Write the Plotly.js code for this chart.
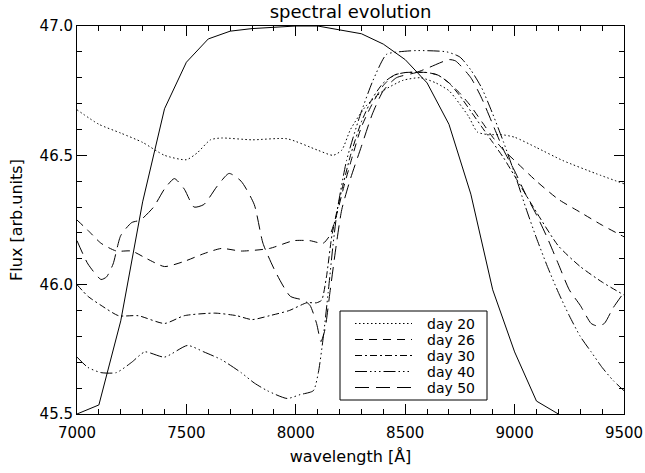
<!DOCTYPE html>
<html>
<head>
<meta charset="utf-8">
<script src="https://cdn.plot.ly/plotly-3.0.1.min.js"></script>
<style>html,body{margin:0;padding:0;background:#fff;}#chart{width:645px;height:473px;}</style>
</head>
<body>
<div id="chart"></div>
<script>
// Filter transmission (scaled), solid line
const filterWave = [7000,7100,7200,7300,7400,7500,7600,7700,7800,8000,8100,8300,8400,8500,8600,8700,8800,8900,9000,9100,9200];
const filterFlux = [45.50,45.535,45.86,46.32,46.68,46.86,46.95,46.98,46.99,47.0,47.0,46.97,46.93,46.87,46.78,46.62,46.35,45.98,45.74,45.55,45.50];

const wave20 = [7000,7100,7200,7300,7400,7500,7550,7610,7660,7800,7960,8100,8170,8210,8250,8320,8400,8490,8570,8640,8700,8730,8790,8830,8880,8940,9000,9100,9220,9370,9500];
const flux20 = [46.676,46.62,46.586,46.55,46.50,46.483,46.51,46.56,46.567,46.56,46.564,46.52,46.50,46.52,46.60,46.69,46.75,46.79,46.80,46.78,46.75,46.72,46.65,46.59,46.58,46.58,46.57,46.53,46.48,46.43,46.39];

const wave26 = [7000,7050,7110,7180,7250,7320,7400,7490,7580,7660,7750,7880,7990,8065,8125,8155,8180,8220,8260,8300,8350,8400,8450,8500,8600,8650,8700,8750,8800,8850,8900,8950,9000,9100,9200,9300,9400,9500];
const flux26 = [46.25,46.21,46.16,46.13,46.13,46.10,46.07,46.09,46.12,46.14,46.13,46.14,46.17,46.17,46.16,46.19,46.25,46.38,46.50,46.61,46.70,46.77,46.81,46.82,46.82,46.81,46.78,46.74,46.69,46.63,46.57,46.52,46.48,46.40,46.33,46.28,46.23,46.185];

const wave30 = [7000,7050,7110,7190,7280,7400,7490,7630,7730,7800,7880,7970,8050,8095,8118,8140,8165,8200,8250,8300,8350,8400,8450,8500,8600,8650,8700,8750,8800,8850,8900,8950,9000,9100,9200,9300,9400,9500];
const flux30 = [46.0,45.955,45.92,45.88,45.88,45.85,45.88,45.89,45.88,45.865,45.88,45.90,45.93,45.93,45.94,46.03,46.19,46.33,46.50,46.63,46.72,46.78,46.81,46.82,46.82,46.81,46.78,46.73,46.67,46.61,46.55,46.49,46.42,46.28,46.15,46.07,46.01,45.96];

const wave40 = [7000,7050,7110,7180,7250,7310,7400,7505,7580,7660,7750,7810,7870,7960,8020,8080,8103,8126,8148,8171,8190,8232,8292,8353,8414,8470,8550,8690,8750,8800,8850,8900,8950,9000,9050,9100,9150,9200,9250,9300,9350,9400,9450,9500];
const flux40 = [45.72,45.68,45.66,45.66,45.70,45.74,45.72,45.765,45.74,45.71,45.66,45.62,45.59,45.56,45.575,45.59,45.66,45.80,45.97,46.16,46.29,46.48,46.65,46.79,46.89,46.90,46.905,46.90,46.88,46.83,46.76,46.66,46.55,46.43,46.30,46.18,46.07,45.97,45.88,45.80,45.74,45.68,45.63,45.59];

const wave50 = [7000,7050,7110,7135,7165,7200,7250,7290,7350,7400,7445,7490,7535,7580,7640,7695,7750,7810,7850,7910,7975,8035,8065,8095,8115,8133,8156,8186,8210,8250,8300,8350,8400,8460,8550,8610,8700,8730,8800,8850,8900,8950,9000,9050,9100,9150,9200,9250,9300,9350,9380,9410,9450,9500];
const flux50 = [46.17,46.08,46.02,46.03,46.08,46.19,46.24,46.25,46.30,46.37,46.41,46.37,46.30,46.31,46.38,46.43,46.40,46.31,46.16,46.045,45.955,45.94,45.92,45.85,45.78,45.825,45.97,46.16,46.29,46.41,46.535,46.66,46.75,46.80,46.82,46.84,46.87,46.865,46.80,46.72,46.62,46.52,46.44,46.35,46.27,46.18,46.08,45.98,45.92,45.85,45.84,45.85,45.91,45.97];

const seriesNames = ['day 20','day 26','day 30','day 40','day 50'];
const seriesWaves = [wave20, wave26, wave30, wave40, wave50];
const seriesFluxes = [flux20, flux26, flux30, flux40, flux50];
const seriesDash = ['1.5px,2.5px','8px,6px','7px,3px,2px,3px','12px,3px,1.5px,3px,1.5px,3px,1.5px,3px','14px,7px'];

const xTickVals = [7000,7500,8000,8500,9000,9500];
const yTickVals = [45.5,46.0,46.5,47.0];

const W = 645, H = 473;
const M = {l:77, r:21, t:26, b:59};
const px2x = p => (p - M.l) / (W - M.l - M.r);
const px2y = p => (H - M.b - p) / (H - M.t - M.b);

const FONT = 'DejaVu Sans, Liberation Sans, sans-serif';

const traces = [{
  x: filterWave, y: filterFlux, type: 'scatter', mode: 'lines',
  line: {color: 'black', width: 1}, showlegend: false, hoverinfo: 'skip'
}];
seriesNames.forEach((n, i) => {
  traces.push({
    x: seriesWaves[i], y: seriesFluxes[i], type: 'scatter', mode: 'lines', name: n,
    line: {color: 'black', width: 1, dash: seriesDash[i], shape: 'spline', smoothing: 0.6},
    showlegend: false
  });
});

// manual legend box like the reference
const shapes = [{
  type: 'rect', xref: 'paper', yref: 'paper',
  x0: px2x(340), x1: px2x(487), y0: px2y(400), y1: px2y(311),
  line: {color: 'black', width: 1}, fillcolor: 'white', layer: 'above'
}];
const annotations = [];
const rowY = [323.5, 339.5, 355.5, 371.5, 387.5];
seriesNames.forEach((n, i) => {
  shapes.push({
    type: 'line', xref: 'paper', yref: 'paper',
    x0: px2x(355), x1: px2x(412), y0: px2y(rowY[i]), y1: px2y(rowY[i]),
    line: {color: 'black', width: 1, dash: seriesDash[i]}, layer: 'above'
  });
  annotations.push({
    xref: 'paper', yref: 'paper', x: px2x(425), y: px2y(rowY[i]),
    xanchor: 'left', yanchor: 'middle', showarrow: false, text: n,
    font: {family: FONT, size: 14, color: 'black'}
  });
});

const axisCommon = {
  showline: true, linecolor: 'black', linewidth: 1, mirror: 'ticks',
  ticks: 'inside', ticklen: 10, tickwidth: 1, tickcolor: 'black',
  showgrid: false, zeroline: false,
  tickfont: {family: FONT, size: 15, color: 'black'}
};

const layout = {
  width: W, height: H, margin: M,
  paper_bgcolor: 'white', plot_bgcolor: 'white',
  title: {text: 'spectral evolution', x: px2x(350.5), xref: 'paper', xanchor: 'center',
          y: 1 - 12/H, yref: 'container', yanchor: 'middle',
          font: {family: FONT, size: 18, color: 'black'}},
  xaxis: Object.assign({}, axisCommon, {
    range: [7000, 9500], tickvals: xTickVals, ticktext: xTickVals.map(String),
    ticklabelstandoff: 5,
    minor: {dtick: 100, tick0: 7000, ticks: 'inside', ticklen: 5, tickcolor: 'black', tickwidth: 1, showgrid: false},
    title: {text: 'wavelength [Å]', font: {family: FONT, size: 16, color: 'black'}, standoff: 9}
  }),
  yaxis: Object.assign({}, axisCommon, {
    range: [45.5, 47.0], tickvals: yTickVals, ticktext: yTickVals.map(v => v.toFixed(1)),
    minor: {dtick: 0.1, tick0: 45.5, ticks: 'inside', ticklen: 5, tickcolor: 'black', tickwidth: 1, showgrid: false},
    title: {text: 'Flux [arb.units]', font: {family: FONT, size: 16, color: 'black'}, standoff: 12}
  }),
  shapes: shapes, annotations: annotations, showlegend: false
};

Plotly.newPlot('chart', traces, layout, {displayModeBar: false, staticPlot: true});
</script>
</body>
</html>
